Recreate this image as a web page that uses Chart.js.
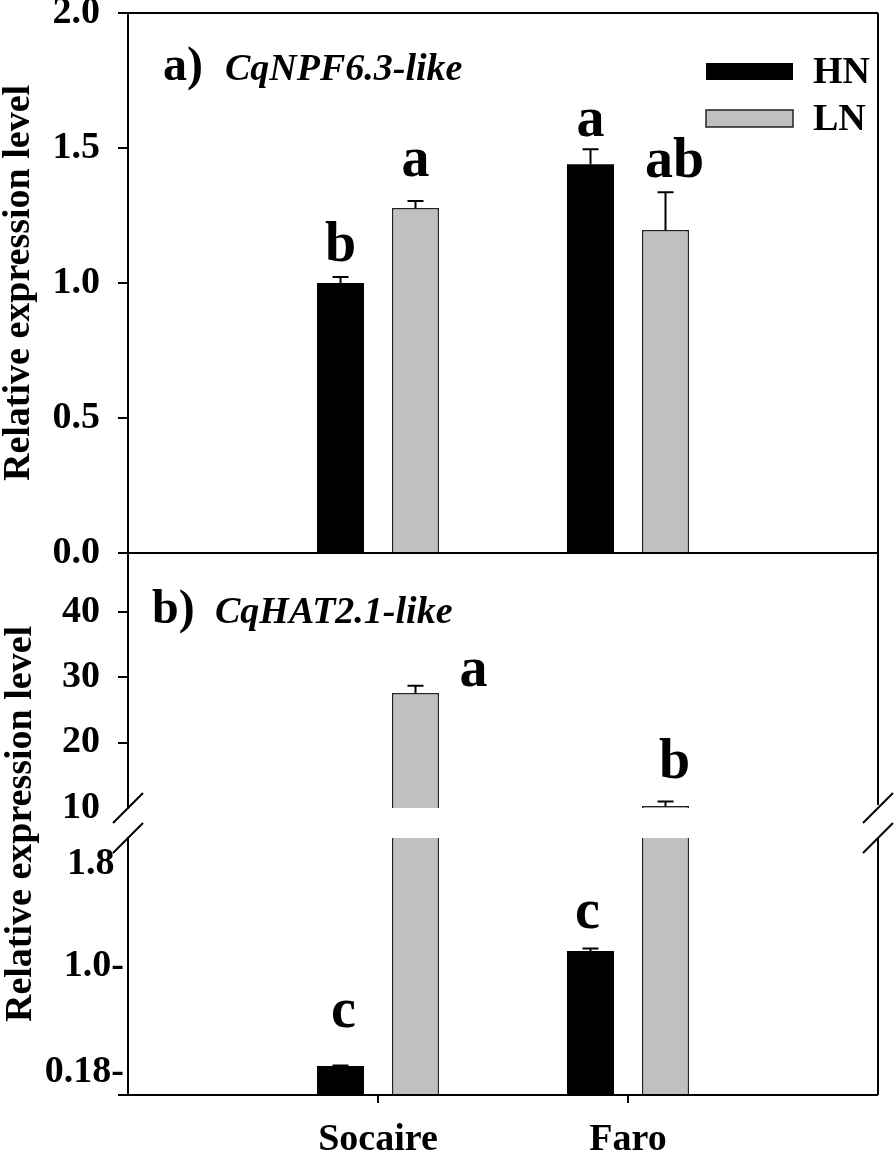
<!DOCTYPE html>
<html>
<head>
<meta charset="utf-8">
<script src="https://cdn.jsdelivr.net/npm/chart.js@4.4.0/dist/chart.umd.min.js"></script>
<style>
  html, body { margin: 0; padding: 0; background: #fff; overflow: hidden; }
  #wrap { position: relative; width: 895px; height: 1156px; }
  #wrap canvas { position: absolute; left: 0; top: 0; }
</style>
</head>
<body>
<div id="wrap">
  <canvas id="panelA" width="895" height="1156"></canvas>
  <canvas id="panelBup" width="895" height="1156"></canvas>
  <canvas id="panelBlow" width="895" height="1156"></canvas>
</div>
<script>
// ---- data ----
var cultivars = ['Socaire', 'Faro'];
var seriesNames = ['HN', 'LN'];
var panelTitles = [['a)', 'CqNPF6.3-like'], ['b)', 'CqHAT2.1-like']];
var yTitle = 'Relative expression level';

// a) CqNPF6.3-like
var npfHN = [1.00, 1.44];
var npfHNErr = [0.022, 0.055];
var npfLN = [1.278, 1.196];
var npfLNErr = [0.026, 0.14];
var npfLettersHN = ['b', 'a'];
var npfLettersLN = ['a', 'ab'];

// b) CqHAT2.1-like (broken axis)
var hatHN = [0.226, 1.12];
var hatHNErr = [0.004, 0.02];
var hatLN = [27.6, 10.3];
var hatLNErr = [1.1, 0.7];
var hatLettersHN = ['c', 'c'];
var hatLettersLN = ['a', 'b'];

// tick labels
var npfTicks = [0, 0.5, 1.0, 1.5, 2.0];
var hatUpperTicks = [10, 20, 30, 40];
var hatLowerTicks = [0.18, 1.0, 1.8];
var hatLowerTickLabels = ['0.18-', '1.0-', '1.8 '];

// ---- style / placement ----
var SERIF = "'Liberation Serif', 'Times New Roman', serif";
Chart.defaults.font.family = SERIF;
Chart.defaults.font.weight = 'bold';
Chart.defaults.font.size = 38;
Chart.defaults.color = '#000';

// letter offsets [dx, dy] from the error bar cap (px)
var npfLetterOffHN = [[0, -16], [0, -13]];
var npfLetterOffLN = [[0, -25], [9, -15]];
var hatLetterOffHN = [[3, -38], [-3, -21]];
var hatLetterOffLN = [[58, 0], [9, -23]];

function pad(arr) { return [null].concat(arr, [null]); }
var xLabels = pad(cultivars).map(function (c) { return c || ''; });

function makeDatasets(hn, hnErr, hnLet, hnOff, ln, lnErr, lnLet, lnOff) {
    return [{
        label: seriesNames[0],
        data: pad(hn), errors: pad(hnErr), letters: pad(hnLet), letterOffsets: pad(hnOff),
        backgroundColor: '#000', borderWidth: 0, clip: 0,
        categoryPercentage: 0.6, barPercentage: 0.627
    }, {
        label: seriesNames[1],
        data: pad(ln), errors: pad(lnErr), letters: pad(lnLet), letterOffsets: pad(lnOff),
        backgroundColor: '#c0c0c0', borderColor: '#222', borderWidth: 1.5, clip: 0,
        categoryPercentage: 0.6, barPercentage: 0.627
    }];
}

// error bars + significance letters (only where the cap falls inside this segment)
var errorBars = {
    id: 'errorBars',
    afterDatasetsDraw: function (chart) {
        var ctx = chart.ctx, a = chart.chartArea;
        ctx.save();
        ctx.beginPath();
        ctx.rect(a.left, a.top, a.right - a.left, a.bottom - a.top);
        ctx.clip();
        chart.data.datasets.forEach(function (ds, di) {
            var meta = chart.getDatasetMeta(di);
            var yScale = chart.scales[meta.yAxisID];
            meta.data.forEach(function (bar, i) {
                var v = ds.data[i];
                if (v === null || v === undefined) return;
                var yCap = yScale.getPixelForValue(v + ds.errors[i]);
                if (yCap < a.top || yCap > a.bottom) return;
                ctx.strokeStyle = '#000';
                ctx.lineWidth = 2;
                ctx.beginPath();
                ctx.moveTo(bar.x, bar.y);
                ctx.lineTo(bar.x, yCap);
                ctx.moveTo(bar.x - 8, yCap);
                ctx.lineTo(bar.x + 8, yCap);
                ctx.stroke();
                var off = ds.letterOffsets[i];
                ctx.fillStyle = '#000';
                ctx.font = 'bold 56px ' + SERIF;
                ctx.textAlign = 'center';
                ctx.textBaseline = 'alphabetic';
                ctx.fillText(ds.letters[i], bar.x + off[0], yCap + off[1]);
            });
        });
        ctx.restore();
    }
};

// panel frame and axis break marks
var frame = {
    id: 'frame',
    afterDraw: function (chart, args, o) {
        var a = chart.chartArea, ctx = chart.ctx;
        ctx.save();
        ctx.strokeStyle = '#000';
        ctx.lineWidth = 2;
        ctx.beginPath();
        if (o.top) { ctx.moveTo(a.left - 10, a.top); ctx.lineTo(a.right, a.top); }
        if (o.bottom) { ctx.moveTo(a.left - 10, a.bottom); ctx.lineTo(a.right, a.bottom); }
        ctx.moveTo(a.right, a.top);
        ctx.lineTo(a.right, o.breakBottom ? a.bottom - 3 : a.bottom);
        if (o.breakBottom || o.breakTop) {
            var y = o.breakBottom ? a.bottom : a.top;
            [a.left, a.right].forEach(function (x) {
                ctx.moveTo(x - 15, y + 15);
                ctx.lineTo(x + 15, y - 15);
            });
        }
        ctx.stroke();
        ctx.restore();
    }
};

// panel title, legend, extra y title
var decor = {
    id: 'decor',
    afterDraw: function (chart, args, o) {
        var a = chart.chartArea, ctx = chart.ctx;
        ctx.save();
        ctx.fillStyle = '#000';
        ctx.textAlign = 'left';
        ctx.textBaseline = 'alphabetic';
        if (o.title) {
            ctx.font = 'bold 48px ' + SERIF;
            ctx.fillText(o.title[0], a.left + o.tagX, a.top + o.baseline);
            ctx.font = 'italic bold 38px ' + SERIF;
            ctx.fillText(o.title[1], a.left + o.nameX, a.top + o.baseline);
        }
        if (o.legend) {
            chart.data.datasets.forEach(function (ds, i) {
                var x = a.right - 172, y = a.top + 50 + i * 47;
                ctx.fillStyle = ds.backgroundColor;
                ctx.fillRect(x, y, 87, 17);
                if (ds.borderWidth) {
                    ctx.strokeStyle = ds.borderColor;
                    ctx.lineWidth = ds.borderWidth;
                    ctx.strokeRect(x, y, 87, 17);
                }
                ctx.fillStyle = '#000';
                ctx.font = 'bold 38px ' + SERIF;
                ctx.textBaseline = 'middle';
                ctx.fillText(ds.label, x + 107, y + 10);
            });
        }
        if (o.yTitle) {
            ctx.translate(21, o.yTitleY);
            ctx.rotate(-Math.PI / 2);
            ctx.textAlign = 'center';
            ctx.textBaseline = 'middle';
            ctx.font = 'bold 38px ' + SERIF;
            ctx.fillText(o.yTitle, 0, 0);
        }
        ctx.restore();
    }
};

function yScale(ticks, min, max, labelFn, opts) {
    return Object.assign({
        min: min, max: max,
        afterBuildTicks: function (s) { s.ticks = ticks.map(function (v) { return { value: v }; }); },
        afterFit: function (s) { s.width = 128; s.paddingTop = 0; s.paddingBottom = 0; },
        border: { display: true, color: '#000', width: 2 },
        grid: { drawOnChartArea: false, drawTicks: true, tickLength: 10, color: '#000', lineWidth: 2 },
        ticks: { padding: 18, font: { size: 38 }, callback: labelFn }
    }, opts || {});
}

function hiddenX() {
    return { type: 'category', offset: false, display: false, grid: { offset: false } };
}

var common = { responsive: false, animation: false, devicePixelRatio: 1 };

// a) top panel: 13..553
new Chart(document.getElementById('panelA'), {
    type: 'bar',
    data: {
        labels: xLabels,
        datasets: makeDatasets(npfHN, npfHNErr, npfLettersHN, npfLetterOffHN,
                               npfLN, npfLNErr, npfLettersLN, npfLetterOffLN)
    },
    options: Object.assign({}, common, {
        layout: { padding: { left: 0, top: 13, right: 17, bottom: 603 } },
        plugins: {
            legend: { display: false }, tooltip: { enabled: false },
            frame: { top: true, bottom: true },
            decor: { title: panelTitles[0], tagX: 35, nameX: 97, baseline: 67, legend: true }
        },
        scales: {
            x: hiddenX(),
            y: yScale(npfTicks, 0, 2, function (v) { return v.toFixed(1); }, {
                title: { display: true, text: yTitle, padding: { top: 0, bottom: 0 },
                         font: { size: 38, lineHeight: 1 } }
            })
        }
    }),
    plugins: [errorBars, frame, decor]
});

// b) upper segment of broken axis: 553..808
new Chart(document.getElementById('panelBup'), {
    type: 'bar',
    data: {
        labels: xLabels,
        datasets: makeDatasets(hatHN, hatHNErr, hatLettersHN, hatLetterOffHN,
                               hatLN, hatLNErr, hatLettersLN, hatLetterOffLN)
    },
    options: Object.assign({}, common, {
        layout: { padding: { left: 0, top: 553, right: 17, bottom: 348 } },
        plugins: {
            legend: { display: false }, tooltip: { enabled: false },
            frame: { breakBottom: true },
            decor: { title: panelTitles[1], tagX: 24, nameX: 87, baseline: 70 }
        },
        scales: {
            x: hiddenX(),
            y: yScale(hatUpperTicks, 10, 49, function (v) { return String(v); }, {
                grid: { drawOnChartArea: false, drawTicks: true, tickLength: 10, lineWidth: 2,
                        color: function (c) { return c.tick && c.tick.value === 10 ? 'rgba(0,0,0,0)' : '#000'; } }
            })
        }
    }),
    plugins: [errorBars, frame, decor]
});

// b) lower segment of broken axis: 838..1095
new Chart(document.getElementById('panelBlow'), {
    type: 'bar',
    data: {
        labels: xLabels,
        datasets: makeDatasets(hatHN, hatHNErr, hatLettersHN, hatLetterOffHN,
                               hatLN, hatLNErr, hatLettersLN, hatLetterOffLN)
    },
    options: Object.assign({}, common, {
        layout: { padding: { left: 0, top: 838, right: 17, bottom: 0 } },
        plugins: {
            legend: { display: false }, tooltip: { enabled: false },
            frame: { bottom: true, breakTop: true },
            decor: { yTitle: yTitle, yTitleY: (553 + 1095) / 2 }
        },
        scales: {
            x: {
                type: 'category', offset: false,
                afterFit: function (s) { s.height = 61; s.paddingLeft = 0; s.paddingRight = 0; },
                border: { display: false },
                grid: {
                    offset: false, drawOnChartArea: false, drawTicks: true, tickLength: 8, lineWidth: 2,
                    color: function (c) { return c.index > 0 && c.index < xLabels.length - 1 ? '#000' : 'rgba(0,0,0,0)'; }
                },
                ticks: { padding: 14, font: { size: 38 }, maxRotation: 0, autoSkip: false }
            },
            y: yScale(hatLowerTicks, 0, 2.0, function (v, i) { return hatLowerTickLabels[i]; }, {
                grid: { drawOnChartArea: false, drawTicks: false },
                ticks: { padding: 4, font: { size: 38 }, callback: function (v, i) { return hatLowerTickLabels[i]; } }
            })
        }
    }),
    plugins: [errorBars, frame, decor]
});
</script>
</body>
</html>
